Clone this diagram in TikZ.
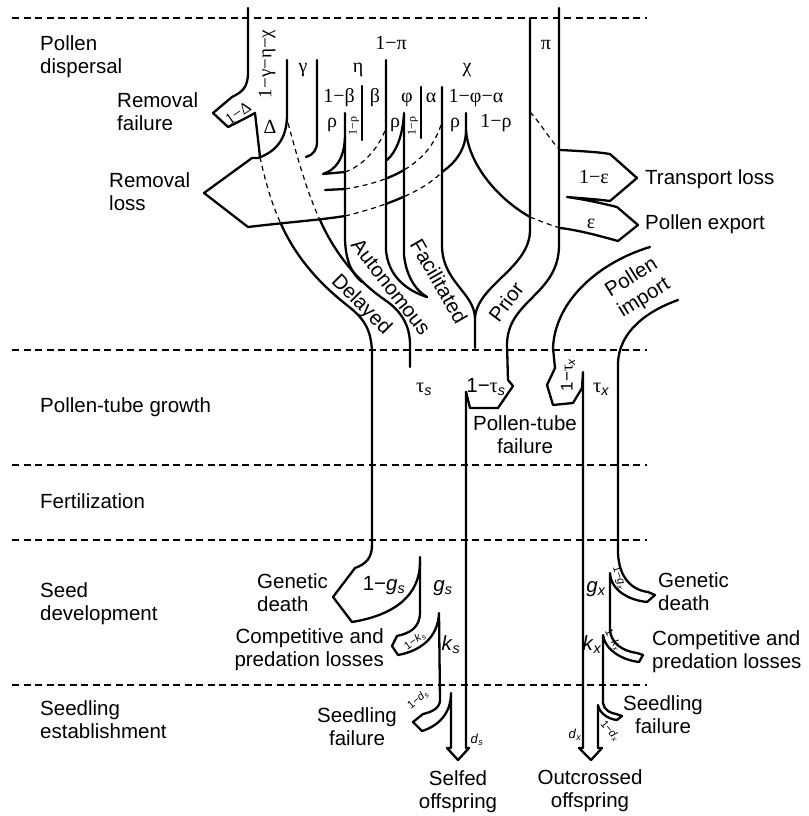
\documentclass[tikz,border=0pt]{standalone}
\usepackage{fontspec}
\setmainfont{Liberation Sans}
\newfontfamily\greekfont{Liberation Serif}
\usetikzlibrary{positioning}
\newcommand{\gk}[1]{{\greekfont #1}}
\newcommand{\sbs}[1]{\textsubscript{\itshape #1}}
\tikzset{
  flow/.style={line width=2.3pt, line join=round, line cap=round},
  seam/.style={line width=1.2pt, dash pattern=on 5pt off 4pt},
  stage/.style={line width=2pt, dash pattern=on 7pt off 4.5pt},
  txt/.style={font=\fontsize{20.5}{23.5}\selectfont, inner sep=0pt, align=left},
  grk/.style={font=\fontsize{20}{22}\selectfont\greekfont, inner sep=0pt},
  small/.style={font=\fontsize{13}{14}\selectfont, inner sep=0pt},
  tiny/.style={font=\fontsize{11}{12}\selectfont, inner sep=0pt},
}

\begin{document}
\begin{tikzpicture}[x=1pt,y=-1pt]
  \useasboundingbox (0,0) rectangle (808,816);
  % stage separators
  \foreach \yy in {18,350,465,540,685}
    \draw[stage] (12,\yy) -- (647,\yy);

  % removal failure arrow and delayed edge
  \draw[flow] (248,8) -- (248,72) .. controls (248,88) and (242,92) .. (232,97)
    -- (213,113) -- (228,127) .. controls (238,122) and (248,117) .. (255,113) -- (260,157);
  \draw[seam] (260,157) .. controls (266,185) and (273,207) .. (281,224);
  \draw[flow] (281,224) .. controls (298,262) and (325,288) .. (348,306)
    .. controls (366,320) and (372,332) .. (372,356) -- (372,545)
    .. controls (372,558) and (366,564) .. (355,568) -- (333,597) -- (352,622)
    .. controls (395,615) and (420,595) .. (420,562);
  % removal loss arrow
  \draw[flow] (287,60) -- (287,115) .. controls (287,140) and (275,152) .. (258,158)
    -- (252,158) -- (204,193) -- (248,227) .. controls (290,222) and (320,220) .. (345,216);
  \draw[seam] (288,123) .. controls (298,160) and (308,195) .. (320,220);
  \draw[flow] (320,220) .. controls (336,256) and (360,283) .. (385,300)
    .. controls (401,311) and (410,325) .. (410,345) -- (410,367);

  % dividers of the 1-pi part
  \draw[flow] (317,60) -- (317,142) .. controls (317,150) and (313,155) .. (306,157);
  \draw[flow] (386,60) -- (386,250) .. controls (388,275) and (405,290) .. (427,297);
  \draw[flow] (404,113) -- (404,255) .. controls (406,275) and (415,290) .. (427,297);
  \draw[flow] (345,113) -- (345,240) .. controls (346,262) and (352,274) .. (362,282);
  \draw[flow] (362,86) -- (362,140);
  \draw[flow] (421,87) -- (421,138);
  \draw[flow] (345,137) .. controls (344,160) and (335,170) .. (323,174) -- (345,172);
  \draw[flow] (325,190) -- (345,189);
  \draw[flow] (404,115) .. controls (402,138) and (396,152) .. (387,160);

  % facilitated and prior
  \draw[flow] (442,87) -- (442,245) .. controls (442,282) and (474,292) .. (475,318) -- (475,348);
  \draw[flow] (530,18) -- (530,230) .. controls (530,268) and (477,285) .. (475,318);
  \draw[flow] (466,113) -- (466,130) .. controls (466,150) and (455,163) .. (442,172);
  \draw[flow] (466,130) .. controls (468,162) and (495,197) .. (530,217);
  \draw[seam] (530,217) .. controls (540,221) and (550,225) .. (560,228);

  % dashed arcs
  \draw[seam] (345,172) .. controls (362,166) and (378,150) .. (386,128);
  \draw[seam] (345,189) .. controls (390,182) and (428,165) .. (441,125);
  \draw[seam] (345,216) .. controls (390,205) and (425,190) .. (442,172);
  \begin{scope}
    \clip (386,0) rectangle (404,816);
    \draw[flow] (345,189) .. controls (390,182) and (428,165) .. (441,125);
    \draw[flow] (345,216) .. controls (390,205) and (425,190) .. (442,172);
  \end{scope}

  % transport loss and pollen export
  \draw[seam] (530,112) .. controls (542,125) and (550,140) .. (560,150);
  \draw[flow] (560,150) .. controls (580,151) and (598,152) .. (610,154) -- (637,178)
    -- (610,201) .. controls (595,199) and (578,198) .. (567,197)
    .. controls (588,200) and (605,204) .. (617,207) -- (638,225)
    -- (618,241) .. controls (600,236) and (578,230) .. (560,228);

  % prior edge and pollen-tube failure
  \draw[flow] (559,8) -- (559,245) .. controls (559,295) and (507,300) .. (507,345)
    -- (508,380) -- (513,386) -- (498,408) -- (470,408) -- (466,392);

  % selfed stem
  \draw[flow] (420,557) -- (420,612) .. controls (420,628) and (410,633) .. (397,636)
    -- (392,646) -- (398,655) .. controls (420,651) and (438,638) .. (439,613)
    -- (440,700) .. controls (440,708) and (432,712) .. (423,714) -- (413,722)
    -- (422,731) .. controls (438,726) and (451,714) .. (451,693) -- (451,748)
    -- (447,748) -- (458,760) -- (469,748) -- (466,748) -- (466,392);

  % pollen import and outcrossed stem
  \draw[flow] (650,247) .. controls (600,262) and (555,300) .. (553,348) -- (555,368)
    -- (547,385) -- (553,405) -- (573,403) -- (582,388) -- (583,372) -- (583,748)
    -- (579,748) -- (591,760) -- (602,748) -- (598,748);
  \draw[flow] (678,300) .. controls (650,310) and (618,330) .. (618,365) -- (618,553)
    .. controls (619,578) and (632,590) .. (648,592) -- (655,595) -- (647,602)
    .. controls (628,600) and (611,590) .. (610,573) -- (610,630)
    .. controls (611,643) and (622,651) .. (637,653) -- (643,655) -- (639,662)
    .. controls (622,660) and (605,650) .. (603,635) -- (603,703)
    .. controls (604,710) and (610,713) .. (616,714) -- (622,716) -- (617,720)
    .. controls (607,719) and (599,712) .. (598,705) -- (598,748);

  % stage names
  \node[txt, anchor=north west] (dispersal) at (40,35) {Pollen\\dispersal};
  \node[txt, anchor=base west] (tubegrowth) at (40,412) {Pollen-tube growth};
  \node[txt, anchor=base west] (fertil) at (40,508) {Fertilization};
  \node[txt, anchor=north west] (seeddev) at (40,582) {Seed\\development};
  \node[txt, anchor=north west] (establish) at (40,700) {Seedling\\establishment};

  % fates
  \node[txt, anchor=north west] (remfail) at (117,92) {Removal\\failure};
  \node[txt, anchor=north west] (remloss) at (109,172) {Removal\\loss};
  \node[txt, anchor=base west] (transloss) at (645,184) {Transport loss};
  \node[txt, anchor=base west] (export) at (645,229) {Pollen export};
  \node[txt, anchor=north, align=center] (tubefail) at (525,415) {Pollen-tube\\failure};
  \node[txt, anchor=north west] (gdeathS) at (257,573) {Genetic\\death};
  \node[txt, anchor=north east, align=right] (compS) at (384,628) {Competitive and\\predation losses};
  \node[txt, anchor=north, align=center] (sfailS) at (357,707) {Seedling\\failure};
  \node[txt, anchor=north, align=center] (selfed) at (458,770) {Selfed\\offspring};
  \node[txt, anchor=north west] (gdeathX) at (658,572) {Genetic\\death};
  \node[txt, anchor=north west] (compX) at (652,630) {Competitive and\\predation losses};
  \node[txt, anchor=north, align=center] (sfailX) at (663,695) {Seedling\\failure};
  \node[txt, anchor=north, align=center] (outcrossed) at (590,769) {Outcrossed\\offspring};

  % pathways
  \node[txt, rotate=-45] (delayed) at (361,305) {Delayed};
  \node[txt, rotate=-52] (autonomous) at (391,287) {Autonomous};
  \node[txt, rotate=-60] (facilitated) at (439,281) {Facilitated};
  \node[txt, rotate=53] (prior) at (506,302) {Prior};
  \node[txt, rotate=32] (import) at (638,288) {Pollen\\import};

  % dispersal fractions
  \node[grk, anchor=base] (lpi) at (391,49) {1−π};
  \node[grk, anchor=base] (lpiS) at (546,49) {π};
  \node[grk, anchor=base] (lgam) at (303,73) {γ};
  \node[grk, anchor=base] (leta) at (358,73) {η};
  \node[grk, anchor=base] (lchi) at (467,73) {χ};
  \node[grk, anchor=base] (lbetA) at (339,102) {1−β};
  \node[grk, anchor=base] (lbet) at (375,102) {β};
  \node[grk, anchor=base] (lphi) at (407,102) {φ};
  \node[grk, anchor=base] (lalp) at (431,102) {α};
  \node[grk, anchor=base] (lphalp) at (476,102) {1−φ−α};
  \node[grk, anchor=base] (lrhoA) at (332,127) {ρ};
  \node[grk, anchor=base] (lrhoB) at (395,127) {ρ};
  \node[grk, anchor=base] (lrhoC) at (455,127) {ρ};
  \node[grk, anchor=base] (lrhoD) at (496,127) {1−ρ};
  \node[grk, font=\fontsize{12}{12}\selectfont\greekfont, rotate=90] (lrhoA1) at (354,126) {1−ρ};
  \node[grk, font=\fontsize{12}{12}\selectfont\greekfont, rotate=90] (lrhoB1) at (413,126) {1−ρ};
  \node[grk, anchor=base] (ldel) at (270,133) {Δ};
  \node[grk, font=\fontsize{16}{16}\selectfont\greekfont, rotate=35] (ldelA) at (238,113) {1−Δ};
  \node[grk, font=\fontsize{19}{19}\selectfont\greekfont, rotate=90] (lrem) at (267,64) {1−γ−η−χ};
  \node[grk, anchor=base] (lepsA) at (594,183) {1−ε};
  \node[grk, anchor=base] (leps) at (591,228) {ε};

  % pollen-tube fractions
  \node[txt, anchor=base] (ltaus) at (424,392) {\gk{τ}\sbs{s}};
  \node[txt, anchor=base] (ltausA) at (486,392) {1−\gk{τ}\sbs{s}};
  \node[txt, anchor=base] (ltaux) at (601,392) {\gk{τ}\sbs{x}};
  \node[txt, font=\fontsize{17}{17}\selectfont, rotate=90] (ltauxA) at (568,375) {1−\gk{τ}\sbs{x}};

  % seed and seedling fractions
  \node[txt, anchor=base] (lgsA) at (384,590) {1−\textit{g}\sbs{s}};
  \node[txt, anchor=base] (lgs) at (443,591) {\textit{g}\sbs{s}};
  \node[txt, anchor=base] (lks) at (451,650) {\textit{k}\sbs{s}};
  \node[small] (lds) at (477,740) {\textit{d}\sbs{s}};
  \node[tiny, rotate=35] (lksA) at (415,641) {1−\textit{k}\sbs{s}};
  \node[tiny, rotate=40] (ldsA) at (418,700) {1−\textit{d}\sbs{s}};
  \node[txt, anchor=base] (lgx) at (596,592) {\textit{g}\sbs{x}};
  \node[txt, anchor=base] (lkx) at (592,650) {\textit{k}\sbs{x}};
  \node[small] (ldx) at (575,735) {\textit{d}\sbs{x}};
  \node[tiny, rotate=-72] (lgxA) at (619,578) {1−\textit{g}\sbs{x}};
  \node[tiny, rotate=-60] (lkxA) at (613,640) {1−\textit{k}\sbs{x}};
  \node[tiny, rotate=-50] (ldxA) at (610,731) {1−\textit{d}\sbs{x}};
\end{tikzpicture}
\end{document}
